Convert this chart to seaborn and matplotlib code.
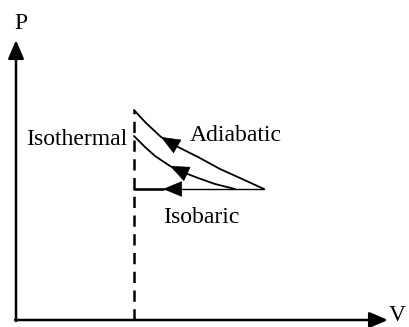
import matplotlib
matplotlib.use('Agg')
import matplotlib.pyplot as plt
import seaborn as sns
import numpy as np
import pandas as pd

# P-V diagram values (arbitrary units)
adiab_V = [11.8, 12.9, 14.5, 16.4, 18.2, 20.4, 22.4, 24.8]
adiab_P = [21.0, 19.8, 18.3, 17.2, 16.3, 15.1, 14.2, 13.1]
iso_V = [11.8, 12.9, 13.9, 15.4, 16.9, 18.2, 19.9, 21.9]
iso_P = [18.4, 17.3, 16.4, 15.4, 14.7, 14.2, 13.6, 13.1]
isobar_V = [11.8, 24.8]
isobar_P = [13.1, 13.1]
V1 = 11.8
V_max = 37.2
P_max = 28.0

sns.set_style('white')
plt.rcParams['font.family'] = ['Liberation Serif', 'DejaVu Serif']

fig = plt.figure(figsize=(4.09, 3.27), dpi=100)
ax = fig.add_axes([0, 0, 1, 1])
ax.set_xlim(-1.6, 39.3)
ax.set_ylim(-0.7, 32.0)
ax.axis('off')

df_ad = pd.DataFrame({'V': adiab_V, 'P': adiab_P})
df_iso = pd.DataFrame({'V': iso_V, 'P': iso_P})
sns.lineplot(data=df_ad, x='V', y='P', sort=False, color='black', lw=1.3, ax=ax)
sns.lineplot(data=df_iso, x='V', y='P', sort=False, color='black', lw=1.3, ax=ax)
ax.plot(isobar_V, isobar_P, color='black', lw=1.0)
ax.plot([V1, 14.7], [isobar_P[0]] * 2, color='black', lw=1.8)

# dashed vertical at V1
ax.plot([V1, V1], [0, adiab_P[0]], color='black', lw=1.8, dashes=(4.5, 3))

# axes with arrows
head = dict(arrowstyle='-|>,head_length=0.75,head_width=0.32', color='black',
            lw=1.8, shrinkA=0, shrinkB=0, mutation_scale=15)
ax.annotate('', xy=(0, P_max), xytext=(0, -0.1), arrowprops=head)
ax.annotate('', xy=(V_max, 0), xytext=(-0.1, 0), arrowprops=head)

# direction arrows along the curves
small = dict(arrowstyle='-|>,head_length=0.8,head_width=0.33', color='black',
             lw=0.5, shrinkA=0, shrinkB=0, mutation_scale=16)
for vs, ps, vt in [(adiab_V, adiab_P, 14.5), (iso_V, iso_P, 15.4)]:
    pt = np.interp(vt, vs, ps)
    pb = np.interp(vt + 1.0, vs, ps)
    ax.annotate('', xy=(vt, pt), xytext=(vt + 1.0, pb), arrowprops=small)
ax.annotate('', xy=(14.7, isobar_P[0]), xytext=(15.9, isobar_P[0]), arrowprops=small)

fs = 17
kw = dict(fontsize=fs, va='baseline', color='black')
ax.text(1.0, 17.5, 'Isothermal', **kw)
ax.text(17.4, 17.9, 'Adiabatic', **kw)
ax.text(14.7, 9.7, 'Isobaric', **kw)
ax.text(-0.2, 29.1, 'P', **kw)
ax.text(37.3, -0.1, 'V', **kw)

fig.savefig('out.png', dpi=100)
